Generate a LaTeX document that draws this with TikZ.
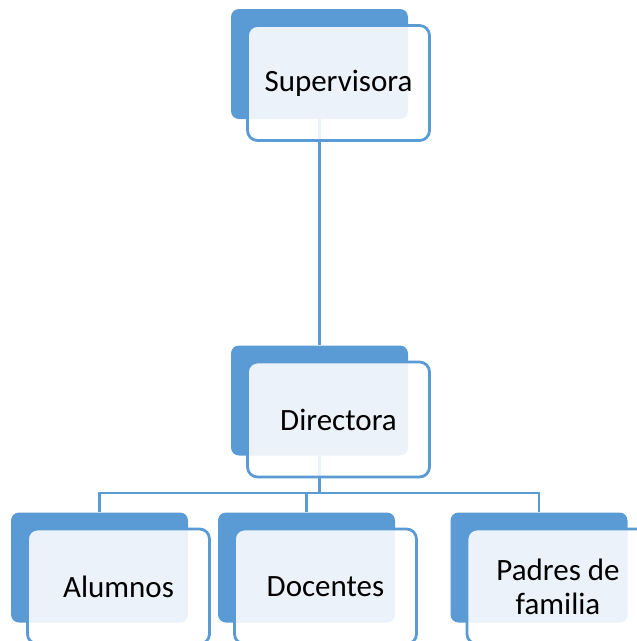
\documentclass[tikz,border=0pt]{standalone}
\usepackage{fontspec}
\setmainfont{Carlito}
\usepackage{tikz}
\usetikzlibrary{positioning}
\usepackage{xcolor}
\definecolor{orgblue}{HTML}{5B9BD5}
\tikzset{
	backbox/.style={fill=orgblue, rounded corners=8pt, minimum width=177pt, minimum height=110pt, inner sep=0pt},
	frontbox/.style={draw=orgblue, line width=2.8pt, fill=white, fill opacity=0.88, text opacity=1, rounded corners=10pt, minimum width=182pt, minimum height=115pt, inner sep=0pt, align=center, font=\fontsize{31}{34}\selectfont},
	link/.style={orgblue, line width=2.8pt}
}

\begin{document}
\begin{tikzpicture}[x=1pt, y=-1pt]
	\useasboundingbox (0,0) rectangle (637,641);
	\clip (0,0) rectangle (637,641);
	\node[backbox] (sup-b) at (319.5, 64) {};
	\node[backbox] (dir-b) at (319.5, 400.5) {};
	\node[backbox] (alu-b) at (99.5, 567.5) {};
	\node[backbox] (doc-b) at (306.5, 567.5) {};
	\node[backbox] (pad-b) at (539, 567.5) {};
	\coordinate (bar) at (319.5, 493);
	\draw[link] (sup-b.south) -- (dir-b.north);
	\draw[link] (dir-b.south) -- (bar) -| (alu-b.north);
	\draw[link] (bar) -| (doc-b.north);
	\draw[link] (bar) -| (pad-b.north);
	\node[frontbox] (sup) at (338.5, 83) {Supervisora};
	\node[frontbox] (dir) at (338.5, 419.5) {Directora};
	\node[frontbox] (alu) at (118.5, 586.5) {Alumnos};
	\node[frontbox] (doc) at (325.5, 586.5) {Docentes};
	\node[frontbox] (pad) at (558, 586.5) {Padres de\\familia};
\end{tikzpicture}
\end{document}
